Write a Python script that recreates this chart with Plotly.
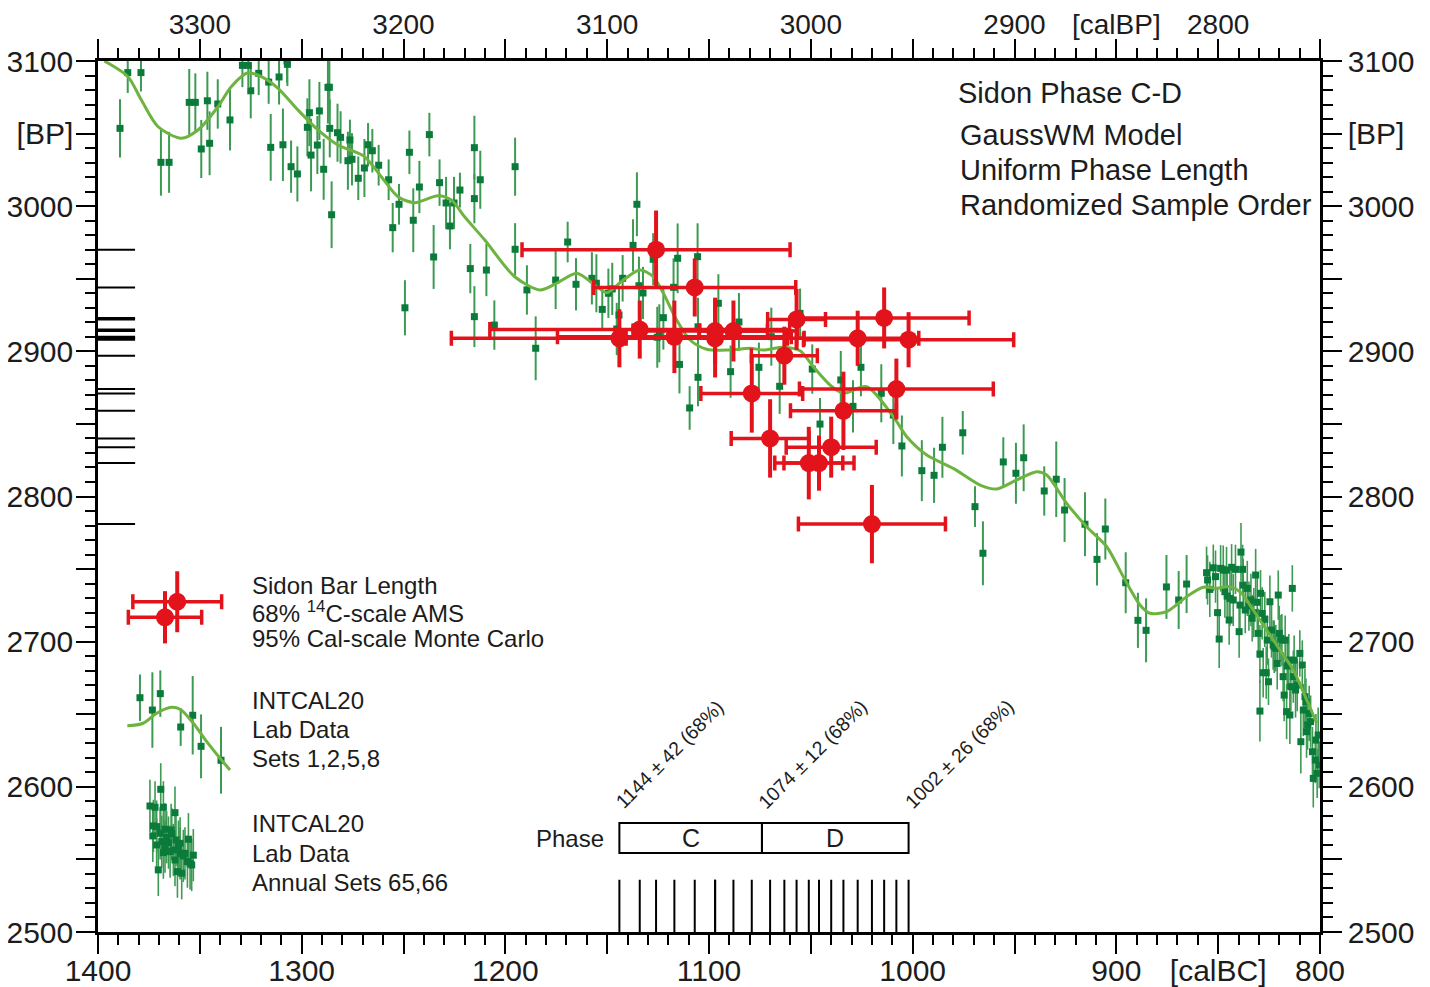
import plotly.graph_objects as go

# ---------------- data ----------------
# Sidon samples: modelled calendar date (cal BC), 14C age (BP), 68% 14C sd, 95% cal half-width (yrs)
SAMPLE_BC = [1126, 1107, 1144, 1134, 1117, 1097, 1097, 1088, 1057, 1063,
             1079, 1070, 1051, 1046, 1040, 1034, 1027, 1014, 1002, 1008, 1020]
SAMPLE_BP = [2970, 2944, 2909, 2915, 2910, 2914, 2909, 2914, 2922, 2897,
             2871, 2840, 2823, 2823, 2834, 2859, 2909, 2923, 2908, 2874, 2781]
SAMPLE_SD = [27, 20, 20, 20, 25, 23, 27, 21, 21, 20,
             27, 27, 25, 19, 21, 27, 19, 21, 19, 21, 27]
SAMPLE_CAL95 = [65.8, 49.6, 82.5, 73.6, 57.4, 40.3, 43.7, 16.7, 14.2, 16.2,
                25.0, 19.1, 16.7, 17.2, 22.1, 26.0, 30.0, 41.7, 51.6, 47.6, 36.1]

# Phase model
PHASE_BOUNDS = [1144, 1074, 1002]
PHASE_BOUND_SD = [42, 12, 26]
PHASE_NAMES = ["C", "D"]

# INTCAL20 lab data, sets 1,2,5,8
INTCAL_BC = [1389.2, 1385.4, 1378.9, 1369.1, 1365.1, 1355.2, 1352.2, 1349.3, 1346.3, 1345.2,
             1341.2, 1335.2, 1329.1, 1326.2, 1325.0, 1321.1, 1316.2, 1315.2, 1311.1, 1309.2,
             1307.2, 1307.0, 1305.2, 1302.1, 1297.2, 1296.2, 1295.4, 1292.3, 1291.3, 1289.2,
             1287.1, 1286.4, 1286.2, 1285.3, 1282.4, 1280.9, 1277.3, 1276.3, 1275.3, 1272.2,
             1269.2, 1267.4, 1265.3, 1262.2, 1257.3, 1255.3, 1252.2, 1249.3, 1247.1, 1245.2,
             1242.2, 1237.3, 1235.2, 1232.3, 1229.1, 1227.2, 1225.2, 1222.3, 1217.2, 1215.2,
             1215.2, 1215.2, 1212.3, 1209.3, 1205.4, 1195.2, 1195.2, 1189.4, 1185.1, 1175.3,
             1169.4, 1165.3, 1157.5, 1155.3, 1152.4, 1149.4, 1147.5, 1145.3, 1144.2, 1142.4,
             1137.3, 1135.4, 1134.4, 1132.4, 1127.4, 1125.4, 1124.4, 1122.4, 1117.4, 1115.4,
             1114.5, 1109.5, 1105.6, 1105.4, 1105.4, 1095.4, 1089.4, 1085.3, 1075.5, 1069.4,
             1065.3, 1055.3, 1049.3, 1045.5, 1035.3, 1029.3, 1025.4, 1015.4, 1009.5, 1005.3,
             995.5, 989.5, 985.4, 975.4, 969.4, 965.5, 955.5, 949.3, 945.5, 935.4,
             929.5, 925.4, 915.4, 909.5, 905.4, 895.4, 889.4, 885.4, 875.4, 869.4, 865.5]
INTCAL_BP = [3053.6, 3092, 3092, 3030.2, 3030.2, 3071.5, 3071.5, 3039.4, 3072.6, 3043.3,
             3070.4, 3059.4, 3097, 3097, 3079.5, 3091.5, 3085.5, 3040.5, 3089, 3042.3,
             3100, 3097.7, 3027.2, 3022.2, 3054.3, 3064.4, 3035.2, 3042.1, 3065.6, 3025.4,
             3081.9, 3081.9, 3053.6, 2994.1, 3050.6, 3047.4, 3031.3, 3045.6, 3032.3, 3019.2,
             3026.3, 3042.3, 3038.2, 3028.2, 3018.2, 2985.2, 3001.3, 2930, 3037.1, 2990.3,
             3013.2, 3049.3, 2965, 3016.2, 3002.2, 2986.3, 3002.2, 3011.1, 2957, 3040.3,
             3005.2, 2923.9, 3018.2, 2956, 2918.1, 3027.2, 2970.3, 2942.3, 2902.1, 2949.1,
             2975.3, 2946.2, 2950.3, 2946.9, 2928.9, 2940, 2943, 2915.4, 2925, 2950.3,
             2973, 3001.3, 2945.2, 2940.2, 2963.4, 2909.7, 2912.4, 2923.2, 2944.1, 2964.1,
             2891, 2861, 2965.2, 2916.9, 2882.1, 2933.1, 2886, 2920.2, 2889, 2910.1,
             2875.9, 2926.2, 2887.8, 2849.9, 2880.3, 2862.1, 2889, 2871.1, 2856.1, 2834.8,
             2817.8, 2814.6, 2833.9, 2843.9, 2793, 2760.9, 2823.8, 2816, 2826.7, 2803.8,
             2811.9, 2790.7, 2780.9, 2756.7, 2777.6, 2740.6, 2714.7, 2707.8, 2737.7, 2728.7, 2739.7]
INTCAL_ERR = [20, 14, 13, 23, 21, 23, 20, 20, 20, 22,
              17, 21, 15, 15, 19, 15, 15, 23, 19, 25,
              15, 15, 18, 19, 20, 23, 25, 20, 20, 21,
              25, 18, 20, 23, 20, 18, 20, 14, 18, 15,
              20, 15, 15, 14, 14, 17, 14, 19, 15, 22,
              18, 15, 22, 16, 18, 16, 18, 12, 17, 22,
              17, 21, 20, 18, 17, 20, 18, 17, 22, 20,
              14, 18, 18, 20, 14, 17, 18, 18, 18, 16,
              18, 22, 20, 18, 18, 21, 20, 22, 20, 24,
              20, 15, 23, 20, 20, 20, 18, 20, 17, 20,
              19, 17, 17, 18, 20, 18, 20, 20, 20, 21,
              21, 19, 21, 15, 14, 22, 17, 21, 23, 17,
              26, 22, 22, 18, 21, 21, 19, 22, 22, 20, 20]

# INTCAL20 annual sets 65,66
ANNUAL_BC = [855.7, 855.2, 854.1, 852.4, 851.3, 850.3, 849.5, 848.8, 847.5, 846.7,
             845.9, 845.6, 844.6, 844.2, 843.4, 842.6, 841.5, 839.7, 839.3, 838.8,
             838.0, 837.7, 836.7, 835.7, 834.9, 833.9, 833.3, 832.5, 831.6, 830.8,
             830.3, 829.5, 829.2, 828.4, 827.9, 827.1, 826.4, 825.9, 825.3, 824.6,
             823.8, 823.0, 822.5, 821.7, 821.0, 820.5, 820.0, 819.2, 818.7, 818.1,
             817.6, 817.1, 816.4, 816.1, 815.3, 814.8, 814.3, 813.6, 813.1, 812.7,
             812.0, 811.2, 809.9, 809.4, 808.7, 808.2, 807.4, 806.9, 806.6, 806.1,
             805.3, 804.6, 803.7, 803.3, 802.3, 802.0, 801.4, 800.9, 800.4, 829.5]
ANNUAL_BP = [2747.5, 2742.5, 2736.0, 2750.9, 2744.8, 2720.0, 2701.8, 2750.5, 2749.3, 2734.4,
             2749.3, 2731.4, 2714.9, 2729.8, 2751.2, 2728.7, 2749.8, 2706.9, 2725.2, 2761.7,
             2749.8, 2739.0, 2721.8, 2736.7, 2724.5, 2728.7, 2716.1, 2720.0, 2745.9, 2727.1,
             2705.7, 2691.5, 2733.3, 2719.5, 2678.6, 2715.4, 2678.6, 2701.1, 2672.4, 2727.5,
             2708.0, 2697.7, 2696.5, 2695.4, 2685.0, 2732.1, 2705.7, 2702.3, 2701.1, 2675.9,
             2663.2, 2701.1, 2651.8, 2683.2, 2687.3, 2649.5, 2669.0, 2736.7, 2675.9, 2687.3,
             2666.7, 2670.1, 2691.9, 2631.1, 2683.9, 2652.9, 2662.1, 2658.6, 2638.0, 2642.6,
             2650.6, 2644.9, 2624.2, 2605.8, 2618.5, 2632.2, 2609.3, 2635.7, 2615.0, 2652.2]
ANNUAL_ERR = [18, 17, 19, 16, 18, 17, 20, 16, 17, 18,
              16, 18, 17, 19, 16, 18, 17, 18, 16, 20,
              17, 18, 16, 19, 17, 18, 16, 17, 18, 19,
              17, 20, 16, 18, 17, 19, 18, 17, 16, 18,
              19, 17, 18, 16, 18, 17, 19, 16, 18, 17,
              18, 17, 19, 16, 18, 20, 17, 16, 18, 17,
              19, 18, 16, 22, 17, 18, 19, 16, 18, 17,
              19, 18, 17, 20, 16, 18, 17, 19, 16, 21]

# GaussWM smoothed calibration curve
CURVE_BC = [1396.9, 1385.3, 1378.7, 1370.5, 1359.1, 1350.9, 1341.1, 1334.6, 1326.4, 1319.8,
            1311.6, 1301.8, 1292.0, 1282.2, 1274.0, 1269.1, 1260.9, 1252.7, 1244.5, 1233.1,
            1226.5, 1220.0, 1210.1, 1195.4, 1182.9, 1174.8, 1164.9, 1155.1, 1150.2, 1142.1,
            1133.9, 1127.4, 1122.4, 1115.9, 1109.3, 1101.1, 1089.7, 1079.9, 1073.3, 1063.5,
            1055.3, 1048.8, 1040.6, 1034.1, 1022.6, 1009.5, 1002.9, 993.1, 980.1, 966.9,
            958.7, 948.9, 939.1, 934.2, 924.4, 914.6, 904.7, 896.6, 888.4, 883.5,
            875.3, 865.5, 857.3, 850.7, 844.2, 838.5, 832.8, 826.2, 819.7, 813.1, 806.5, 801.6]
CURVE_BP = [3100, 3089.2, 3073.1, 3054.7, 3046.8, 3052.5, 3068.5, 3082.3, 3091.9, 3089.2,
            3081.2, 3066.2, 3052.5, 3042.1, 3037.5, 3034.1, 3020.3, 3006.5, 3002.4, 3007.2,
            3004.2, 2992.7, 2976.7, 2951.4, 2942.3, 2946.9, 2953.8, 2944.5, 2940.4, 2949.1,
            2956.0, 2951.4, 2940.0, 2921.6, 2907.8, 2901.4, 2900.9, 2902.1, 2900.9, 2902.8,
            2900.4, 2889.4, 2876.8, 2871.1, 2875.6, 2855.0, 2841.2, 2828.6, 2819.4, 2807.9,
            2805.2, 2811.4, 2817.1, 2814.8, 2795.3, 2779.2, 2765.4, 2744.8, 2725.3, 2719.6,
            2720.7, 2731.0, 2737.5, 2736.8, 2737.9, 2733.3, 2721.8, 2708.0, 2694.3, 2680.5, 2659.8, 2643.8]

# Legend sample glyphs (in data units)
LEG_RED_BC = [1361.1, 1367.1]
LEG_RED_BP = [2727.5, 2716.8]
LEG_RED_CAL = [21.8, 18.0]
LEG_RED_SD = [21, 18]
LEG_CURVE_BC = [1385.6, 1377.8, 1371.2, 1363.8, 1359.7, 1353.2, 1346.6, 1340.1, 1335.2]
LEG_CURVE_BP = [2642.1, 2643.8, 2650.7, 2654.8, 2653.4, 2643.8, 2631.1, 2619.7, 2611.6]
LEG_PTS_BC = [1379.4, 1373.3, 1369.4, 1359.4, 1353.5, 1349.4, 1339.6]
LEG_PTS_BP = [2661.4, 2652.9, 2664.2, 2641.2, 2649.3, 2627.9, 2618.3]
LEG_PTS_ERR = [16, 26, 16, 13, 27, 22, 23]
LEG_ANN_BC = [1374.5, 1372.0, 1369.2, 1367.9, 1362.2, 1372.8, 1371.2, 1369.5, 1367.1, 1366.3,
              1365.4, 1363.8, 1363.0, 1361.7, 1360.5, 1359.7, 1358.1, 1357.3, 1355.6, 1354.8,
              1353.2, 1370.4, 1364.6, 1361.0, 1358.9, 1368.7, 1373.1, 1367.9, 1362.2, 1356.1,
              1354.0, 1364.1, 1371.2, 1367.1, 1359.7]
LEG_ANN_BP = [2586.8, 2585.9, 2598.3, 2585.9, 2582.2, 2573.1, 2572.6, 2568.0, 2570.8, 2565.3,
              2561.6, 2567.5, 2556.5, 2563.4, 2558.8, 2554.2, 2552.4, 2554.2, 2563.9, 2547.3,
              2552.9, 2542.8, 2555.4, 2541.6, 2540.5, 2562.3, 2566.2, 2554.7, 2549.6, 2548.5,
              2546.2, 2570.3, 2560.0, 2558.8, 2561.1]
LEG_ANN_ERR = [18] * len(LEG_ANN_BC)

# Tick labels
BOTTOM_TICKS = [1400, 1350, 1300, 1250, 1200, 1150, 1100, 1050, 1000, 950, 900, 850, 800]
BOTTOM_LABELS = ["1400", " ", "1300", " ", "1200", " ", "1100", " ", "1000", " ", "900", "[calBC]", "800"]
TOP_TICKS = [3350, 3300, 3250, 3200, 3150, 3100, 3050, 3000, 2950, 2900, 2850, 2800, 2750]
TOP_LABELS = [" ", "3300", " ", "3200", " ", "3100", " ", "3000", " ", "2900", "[calBP]", "2800", " "]
Y_TICKS = [2500, 2550, 2600, 2650, 2700, 2750, 2800, 2850, 2900, 2950, 3000, 3050, 3100]
Y_LABELS = ["2500", " ", "2600", " ", "2700", " ", "2800", " ", "2900", " ", "3000", "[BP]", "3100"]

# ---------------- style ----------------
RED = "#E3131B"
GREEN_MK = "#0B7B3B"
GREEN_ERR = "#3D9A52"
CURVE_COL = "#6DB33F"
FONT = "Liberation Sans, Arial, sans-serif"
TXT = "#1c1c1c"
PAGE_OFF = 8                        # default body margin of the html page
W, H = 1430 - PAGE_OFF, 987 - PAGE_OFF
PL, PR, PT, PB = 98, 1320, 61, 932  # plot area in page pixels
L = PL - PAGE_OFF
T = PT - PAGE_OFF
R = W + PAGE_OFF - PR
B = H + PAGE_OFF - PB


def px_x(px):
    return (px - PL) / (PR - PL)


def px_y(py):
    return (PB - py) / (PB - PT)


fig = go.Figure()

# INTCAL discrete data
fig.add_trace(go.Scatter(
    x=INTCAL_BC, y=INTCAL_BP, mode="markers",
    marker=dict(symbol="square", size=7, color=GREEN_MK),
    error_y=dict(type="data", array=INTCAL_ERR, color=GREEN_ERR, thickness=2, width=0),
    showlegend=False, hoverinfo="skip"))
# Annual data
fig.add_trace(go.Scatter(
    x=ANNUAL_BC, y=ANNUAL_BP, mode="markers",
    marker=dict(symbol="square", size=7, color=GREEN_MK),
    error_y=dict(type="data", array=ANNUAL_ERR, color=GREEN_ERR, thickness=1.6, width=0),
    showlegend=False, hoverinfo="skip"))
# Curve
fig.add_trace(go.Scatter(
    x=CURVE_BC, y=CURVE_BP, mode="lines",
    line=dict(color=CURVE_COL, width=3, shape="spline", smoothing=0.8),
    showlegend=False, hoverinfo="skip"))

# Sample tick marks along left and bottom axes
lx, ly, bx, by = [], [], [], []
for bc, bp in zip(SAMPLE_BC, SAMPLE_BP):
    lx += [1400, 1381.8, None]
    ly += [bp, bp, None]
    bx += [bc, bc, None]
    by += [2500, 2536, None]
fig.add_trace(go.Scatter(x=lx, y=ly, mode="lines", line=dict(color="black", width=2),
                         showlegend=False, hoverinfo="skip"))
fig.add_trace(go.Scatter(x=bx, y=by, mode="lines", line=dict(color="black", width=2),
                         showlegend=False, hoverinfo="skip"))

# Sidon samples
fig.add_trace(go.Scatter(
    x=SAMPLE_BC, y=SAMPLE_BP, mode="markers",
    marker=dict(symbol="circle", size=18, color=RED),
    error_x=dict(type="data", array=SAMPLE_CAL95, color=RED, thickness=3.5, width=7.5),
    error_y=dict(type="data", array=SAMPLE_SD, color=RED, thickness=4, width=0),
    showlegend=False, hoverinfo="skip"))

# Legend glyphs
fig.add_trace(go.Scatter(
    x=LEG_RED_BC, y=LEG_RED_BP, mode="markers",
    marker=dict(symbol="circle", size=18, color=RED),
    error_x=dict(type="data", array=LEG_RED_CAL, color=RED, thickness=3.5, width=7.5),
    error_y=dict(type="data", array=LEG_RED_SD, color=RED, thickness=4, width=0),
    showlegend=False, hoverinfo="skip"))
fig.add_trace(go.Scatter(
    x=LEG_PTS_BC, y=LEG_PTS_BP, mode="markers",
    marker=dict(symbol="square", size=7, color=GREEN_MK),
    error_y=dict(type="data", array=LEG_PTS_ERR, color=GREEN_ERR, thickness=2, width=0),
    showlegend=False, hoverinfo="skip"))
fig.add_trace(go.Scatter(
    x=LEG_CURVE_BC, y=LEG_CURVE_BP, mode="lines",
    line=dict(color=CURVE_COL, width=3, shape="spline"),
    showlegend=False, hoverinfo="skip"))
fig.add_trace(go.Scatter(
    x=LEG_ANN_BC, y=LEG_ANN_BP, mode="markers",
    marker=dict(symbol="square", size=7, color=GREEN_MK),
    error_y=dict(type="data", array=LEG_ANN_ERR, color=GREEN_ERR, thickness=1.6, width=0),
    showlegend=False, hoverinfo="skip"))

# dummy trace to activate top/right axes
fig.add_trace(go.Scatter(x=[3000], y=[2800], xaxis="x2", yaxis="y2", mode="markers",
                         marker=dict(opacity=0), showlegend=False, hoverinfo="skip"))

# Phase boxes
BOX_Y0, BOX_Y1 = 2554.4, 2575.1
for i, name in enumerate(PHASE_NAMES):
    x0, x1 = PHASE_BOUNDS[i], PHASE_BOUNDS[i + 1]
    fig.add_shape(type="rect", xref="x", yref="y", x0=x0, x1=x1, y0=BOX_Y0, y1=BOX_Y1,
                  line=dict(color="black", width=2), fillcolor="rgba(0,0,0,0)")
    fig.add_annotation(x=(x0 + x1) / 2, y=(BOX_Y0 + BOX_Y1) / 2, xref="x", yref="y",
                       text=name, showarrow=False, font=dict(size=25, color=TXT, family=FONT))
for b, sd in zip(PHASE_BOUNDS, PHASE_BOUND_SD):
    fig.add_annotation(x=b, y=2580.5, xref="x", yref="y", text=f"{b} ± {sd} (68%)",
                       textangle=-45, xanchor="left", yanchor="bottom", xshift=-11,
                       showarrow=False, font=dict(size=19.5, color=TXT, family=FONT))
fig.add_annotation(x=px_x(606), y=px_y(838), xref="paper", yref="paper", text="Phase",
                   xanchor="right", yanchor="middle", showarrow=False,
                   font=dict(size=24, color=TXT, family=FONT))

# Info text (top right)
for txt, px, py in [("Sidon Phase C-D", 956, 93), ("GaussWM Model", 958, 135),
                    ("Uniform Phase Length", 958, 170), ("Randomized Sample Order", 958, 205)]:
    fig.add_annotation(x=px_x(px), y=px_y(py), xref="paper", yref="paper", text=txt,
                       xanchor="left", yanchor="middle", showarrow=False,
                       font=dict(size=29, color=TXT, family=FONT))

# Legend text
for txt, py in [("Sidon Bar Length", 585), ("68% <sup>14</sup>C-scale AMS", 612),
                ("95% Cal-scale Monte Carlo", 638), ("INTCAL20", 700), ("Lab Data", 729),
                ("Sets 1,2,5,8", 758), ("INTCAL20", 823), ("Lab Data", 853),
                ("Annual Sets 65,66", 882)]:
    fig.add_annotation(x=px_x(250), y=px_y(py), xref="paper", yref="paper", text=txt,
                       xanchor="left", yanchor="middle", showarrow=False,
                       font=dict(size=24, color=TXT, family=FONT))

tick_common = dict(ticks="outside", ticklen=19, tickwidth=2, tickcolor="black",
                   showline=True, linewidth=2.5, linecolor="black", showgrid=False,
                   zeroline=False, tickmode="array", automargin=False)


def minor(vals):
    return dict(tickmode="array", tickvals=vals, ticks="outside", ticklen=10,
                tickwidth=2, tickcolor="black", showgrid=False)


def tfont(size):
    return dict(size=size, color=TXT, family=FONT)


fig.update_layout(
    width=W, height=H, margin=dict(l=L, r=R, t=T, b=B, autoexpand=False),
    paper_bgcolor="white", plot_bgcolor="white",
    xaxis=dict(range=[1400, 800], tickvals=BOTTOM_TICKS, ticktext=BOTTOM_LABELS,
               minor=minor(list(range(800, 1401, 10))), anchor="y",
               ticklabelstandoff=-9, tickfont=tfont(30), **tick_common),
    xaxis2=dict(range=[3350, 2750], tickvals=TOP_TICKS, ticktext=TOP_LABELS,
                minor=minor(list(range(2750, 3351, 10))), overlaying="x", side="top",
                anchor="y", ticklabelstandoff=-6, tickfont=tfont(28), **tick_common),
    yaxis=dict(range=[2500, 3100], tickvals=Y_TICKS, ticktext=Y_LABELS,
               minor=minor(list(range(2500, 3101, 10))), anchor="x",
               ticklabelstandoff=-3, tickfont=tfont(30), **tick_common),
    yaxis2=dict(range=[2500, 3100], tickvals=Y_TICKS, ticktext=Y_LABELS,
                minor=minor(list(range(2500, 3101, 10))), overlaying="y", side="right",
                anchor="x", tickfont=tfont(30), **tick_common),
    font=dict(family=FONT, color=TXT),
    showlegend=False,
)

fig.write_html("out.html")
